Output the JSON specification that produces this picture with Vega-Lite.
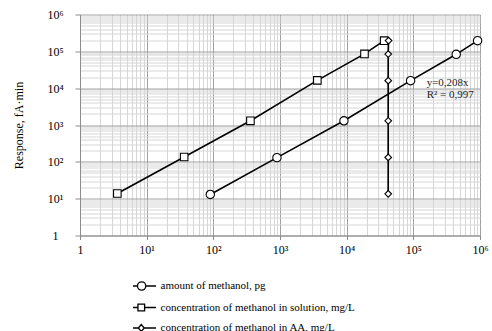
{
  "$schema": "https://vega.github.io/schema/vega-lite/v6.json",
  "width": 400,
  "height": 221,
  "autosize": {"type": "none"},
  "padding": {"left": 80, "top": 14.5, "right": 12, "bottom": 95.5},
  "background": "white",
  "config": {"view": {"stroke": null}, "font": "Liberation Serif"},
  "datasets": {
    "points": [
      {"series": "amount of methanol, pg", "x": 90, "response": 13},
      {"series": "amount of methanol, pg", "x": 900, "response": 130},
      {"series": "amount of methanol, pg", "x": 9100, "response": 1300},
      {"series": "amount of methanol, pg", "x": 91000, "response": 16000},
      {"series": "amount of methanol, pg", "x": 440000, "response": 83000},
      {"series": "amount of methanol, pg", "x": 920000, "response": 195000},
      {"series": "concentration of methanol in solution, mg/L", "x": 3.63, "response": 13.8},
      {"series": "concentration of methanol in solution, mg/L", "x": 36.5, "response": 135},
      {"series": "concentration of methanol in solution, mg/L", "x": 360, "response": 1300},
      {"series": "concentration of methanol in solution, mg/L", "x": 3630, "response": 16300},
      {"series": "concentration of methanol in solution, mg/L", "x": 18500, "response": 85000},
      {"series": "concentration of methanol in solution, mg/L", "x": 36500, "response": 195000},
      {"series": "concentration of methanol in AA, mg/L", "x": 42000, "response": 13.5},
      {"series": "concentration of methanol in AA, mg/L", "x": 42000, "response": 132},
      {"series": "concentration of methanol in AA, mg/L", "x": 42000, "response": 1300},
      {"series": "concentration of methanol in AA, mg/L", "x": 42000, "response": 16000},
      {"series": "concentration of methanol in AA, mg/L", "x": 42000, "response": 84000},
      {"series": "concentration of methanol in AA, mg/L", "x": 42500, "response": 196000}
    ],
    "notes": [
      {"x": 158500, "response": 14100, "text": "y=0,208x"},
      {"x": 158500, "response": 6530, "text": "R² = 0,997"}
    ]
  },
  "encoding": {
    "x": {
      "field": "x", "type": "quantitative",
      "scale": {"type": "log", "domain": [1, 1000000], "nice": false},
      "axis": {
        "title": null,
        "values": [1,2,3,4,5,6,7,8,9,10,20,30,40,50,60,70,80,90,100,200,300,400,500,600,700,800,900,1000,2000,3000,4000,5000,6000,7000,8000,9000,10000,20000,30000,40000,50000,60000,70000,80000,90000,100000,200000,300000,400000,500000,600000,700000,800000,900000,1000000],
        "grid": true,
        "gridColor": {"condition": {"test": "indexof([1,10,100,1000,10000,100000,1000000], datum.value) >= 0", "value": "#a0a0a0"}, "value": "#d6d6d6"},
        "tickOpacity": {"condition": {"test": "indexof([1,10,100,1000,10000,100000,1000000], datum.value) >= 0", "value": 1}, "value": 0},
        "labelExpr": "datum.value == 1 ? '1' : datum.value == 10 ? '10¹' : datum.value == 100 ? '10²' : datum.value == 1000 ? '10³' : datum.value == 10000 ? '10⁴' : datum.value == 100000 ? '10⁵' : datum.value == 1000000 ? '10⁶' : ''",
        "labelOverlap": false, "labelFlush": false, "labelBound": false,
        "labelFont": "Liberation Serif", "labelFontSize": 12, "labelColor": "black",
        "domainColor": "#8c8c8c", "tickColor": "#8c8c8c", "tickSize": 4, "labelPadding": 5
      }
    },
    "y": {
      "field": "response", "type": "quantitative",
      "scale": {"type": "log", "domain": [1, 1000000], "nice": false},
      "axis": {
        "title": "Response, fA·min",
        "titleX": -62, "titleY": 110.5, "titleAngle": 270, "titleAlign": "center", "titleBaseline": "middle",
        "titleFont": "Liberation Serif", "titleFontSize": 12, "titleFontWeight": "normal", "titleColor": "black",
        "values": [1,2,3,4,5,6,7,8,9,10,20,30,40,50,60,70,80,90,100,200,300,400,500,600,700,800,900,1000,2000,3000,4000,5000,6000,7000,8000,9000,10000,20000,30000,40000,50000,60000,70000,80000,90000,100000,200000,300000,400000,500000,600000,700000,800000,900000,1000000],
        "grid": true,
        "gridColor": {"condition": {"test": "indexof([1,10,100,1000,10000,100000,1000000], datum.value) >= 0", "value": "#a0a0a0"}, "value": "#d6d6d6"},
        "tickOpacity": {"condition": {"test": "indexof([1,10,100,1000,10000,100000,1000000], datum.value) >= 0", "value": 1}, "value": 0},
        "labelExpr": "datum.value == 1 ? '1' : datum.value == 10 ? '10¹' : datum.value == 100 ? '10²' : datum.value == 1000 ? '10³' : datum.value == 10000 ? '10⁴' : datum.value == 100000 ? '10⁵' : datum.value == 1000000 ? '10⁶' : ''",
        "labelOverlap": false, "labelFlush": false, "labelBound": false,
        "labelAlign": "center", "labelBaseline": "middle",
        "labelFont": "Liberation Serif", "labelFontSize": 12, "labelColor": "black",
        "domainColor": "#8c8c8c", "tickColor": "#8c8c8c", "tickSize": 5, "labelPadding": 20
      }
    }
  },
  "layer": [
    {
      "data": {"name": "points"},
      "mark": {"type": "line", "color": "black", "strokeWidth": 1.6},
      "encoding": {
        "detail": {"field": "series"},
        "order": {"field": "response", "type": "quantitative"}
      }
    },
    {
      "data": {"name": "points"},
      "mark": {"type": "point", "filled": true, "fill": "white", "stroke": "black", "strokeWidth": 1.1, "opacity": 1},
      "encoding": {
        "shape": {
          "field": "series", "type": "nominal",
          "scale": {"domain": ["amount of methanol, pg", "concentration of methanol in solution, mg/L", "concentration of methanol in AA, mg/L"], "range": ["circle", "square", "diamond"]},
          "legend": null
        },
        "size": {
          "field": "series", "type": "nominal",
          "scale": {"domain": ["amount of methanol, pg", "concentration of methanol in solution, mg/L", "concentration of methanol in AA, mg/L"], "range": [70, 44, 55]},
          "legend": null
        }
      }
    },
    {
      "data": {"name": "points"},
      "transform": [{"filter": "datum.x < 0"}],
      "mark": {"type": "point", "filled": false, "color": "black", "strokeWidth": 1.3},
      "encoding": {
        "shape": {
          "field": "series", "type": "nominal",
          "scale": {
            "domain": ["amount of methanol, pg", "concentration of methanol in solution, mg/L", "concentration of methanol in AA, mg/L"],
            "range": [
              "M -2 0 L -1.22 0 M 0.22 0 L 2 0 M 0.22 0 A 0.72 0.72 0 1 1 -1.22 0 A 0.72 0.72 0 1 1 0.22 0 Z",
              "M -2 0 L -1.14 0 M 0.02 0 L 2 0 M -1.14 -0.58 L 0.02 -0.58 L 0.02 0.58 L -1.14 0.58 Z",
              "M -2 0 L -1.08 0 M -0.04 0 L 2 0 M -1.08 0 L -0.56 -0.6 L -0.04 0 L -0.56 0.6 Z"
            ]
          },
          "legend": {
            "orient": "none", "legendX": 58, "legendY": 265, "title": null,
            "symbolSize": 132, "symbolStrokeWidth": 1.3, "symbolFillColor": "white", "symbolStrokeColor": "black", "symbolOpacity": 1,
            "labelFont": "Liberation Serif", "labelFontSize": 11, "labelColor": "black", "labelOffset": 9.5, "rowPadding": 7.5,
            "labelLimit": 400,
            "encode": {"symbols": {"update": {"fill": {"value": "white"}, "stroke": {"value": "black"}}}}
          }
        }
      }
    },
    {
      "data": {"name": "notes"},
      "mark": {"type": "text", "align": "left", "baseline": "middle", "font": "Liberation Serif", "fontSize": 11, "color": "#222"},
      "encoding": {"text": {"field": "text"}}
    }
  ],
  "resolve": {"scale": {"shape": "independent"}, "legend": {"shape": "independent"}}
}
